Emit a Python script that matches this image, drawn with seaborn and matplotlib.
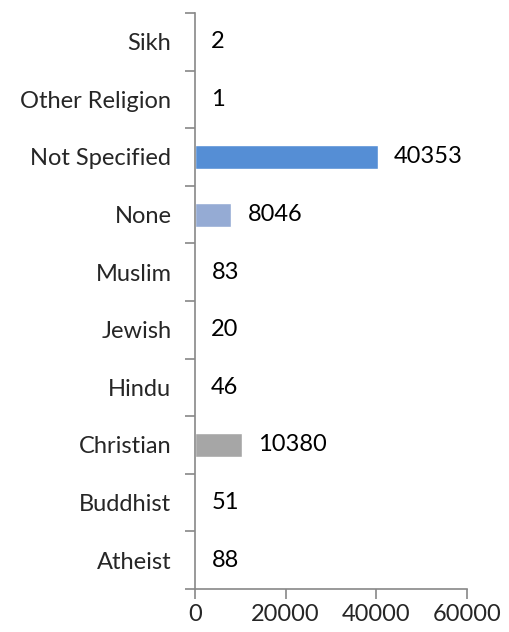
import matplotlib
matplotlib.use("Agg")
import matplotlib.pyplot as plt
from matplotlib.ticker import FixedLocator
import seaborn as sns
import pandas as pd

religions = ["Sikh", "Other Religion", "Not Specified", "None", "Muslim",
             "Jewish", "Hindu", "Christian", "Buddhist", "Atheist"]
counts = [2, 1, 40353, 8046, 83, 20, 46, 10380, 51, 88]
bar_colors = ["#4f81bd", "#c0504d", "#558ed5", "#95abd4", "#8064a2",
              "#4bacc6", "#f79646", "#a6a6a6", "#9bbb59", "#2c4d75"]
x_ticks = [0, 20000, 40000, 60000]

sns.set_style("white")
plt.rcParams["font.family"] = ["Lato", "DejaVu Sans"]

df = pd.DataFrame({"religion": religions, "count": counts})

fig = plt.figure(figsize=(5.10, 6.32), dpi=100)
ax = fig.add_axes([195 / 510, 1 - 589 / 632, (467 - 195) / 510, (589 - 13) / 632])

sns.barplot(data=df, x="count", y="religion", hue="religion", order=religions,
            palette=dict(zip(religions, bar_colors)), legend=False,
            width=0.42, saturation=1, ax=ax)

fs = 17
ax.set_xlim(0, 60000)
ax.set_ylim(len(religions) - 0.5, -0.5)
ax.set_xticks(x_ticks)
ax.set_xticklabels([str(v) for v in x_ticks], fontsize=fs)
ax.set_yticks(range(len(religions)))
ax.set_yticklabels(religions, fontsize=fs)
ax.yaxis.set_minor_locator(FixedLocator([i - 0.5 for i in range(len(religions) + 1)]))
ax.tick_params(axis="y", which="major", length=0, pad=17)
ax.tick_params(axis="y", which="minor", length=7, width=1.2, color="#888888", direction="out", left=True)
ax.tick_params(axis="x", which="major", length=7, width=1.2, color="#888888", direction="out", bottom=True, pad=4)
ax.set_xlabel("")
ax.set_ylabel("")

for side in ["top", "right"]:
    ax.spines[side].set_visible(False)
for side in ["left", "bottom"]:
    ax.spines[side].set_color("#888888")
    ax.spines[side].set_linewidth(1.2)

for i, v in enumerate(counts):
    ax.annotate(str(v), xy=(v, i), xytext=(16, 0), textcoords="offset pixels",
                va="center", ha="left", fontsize=fs, color="black")

fig.savefig("out.png", dpi=100)
